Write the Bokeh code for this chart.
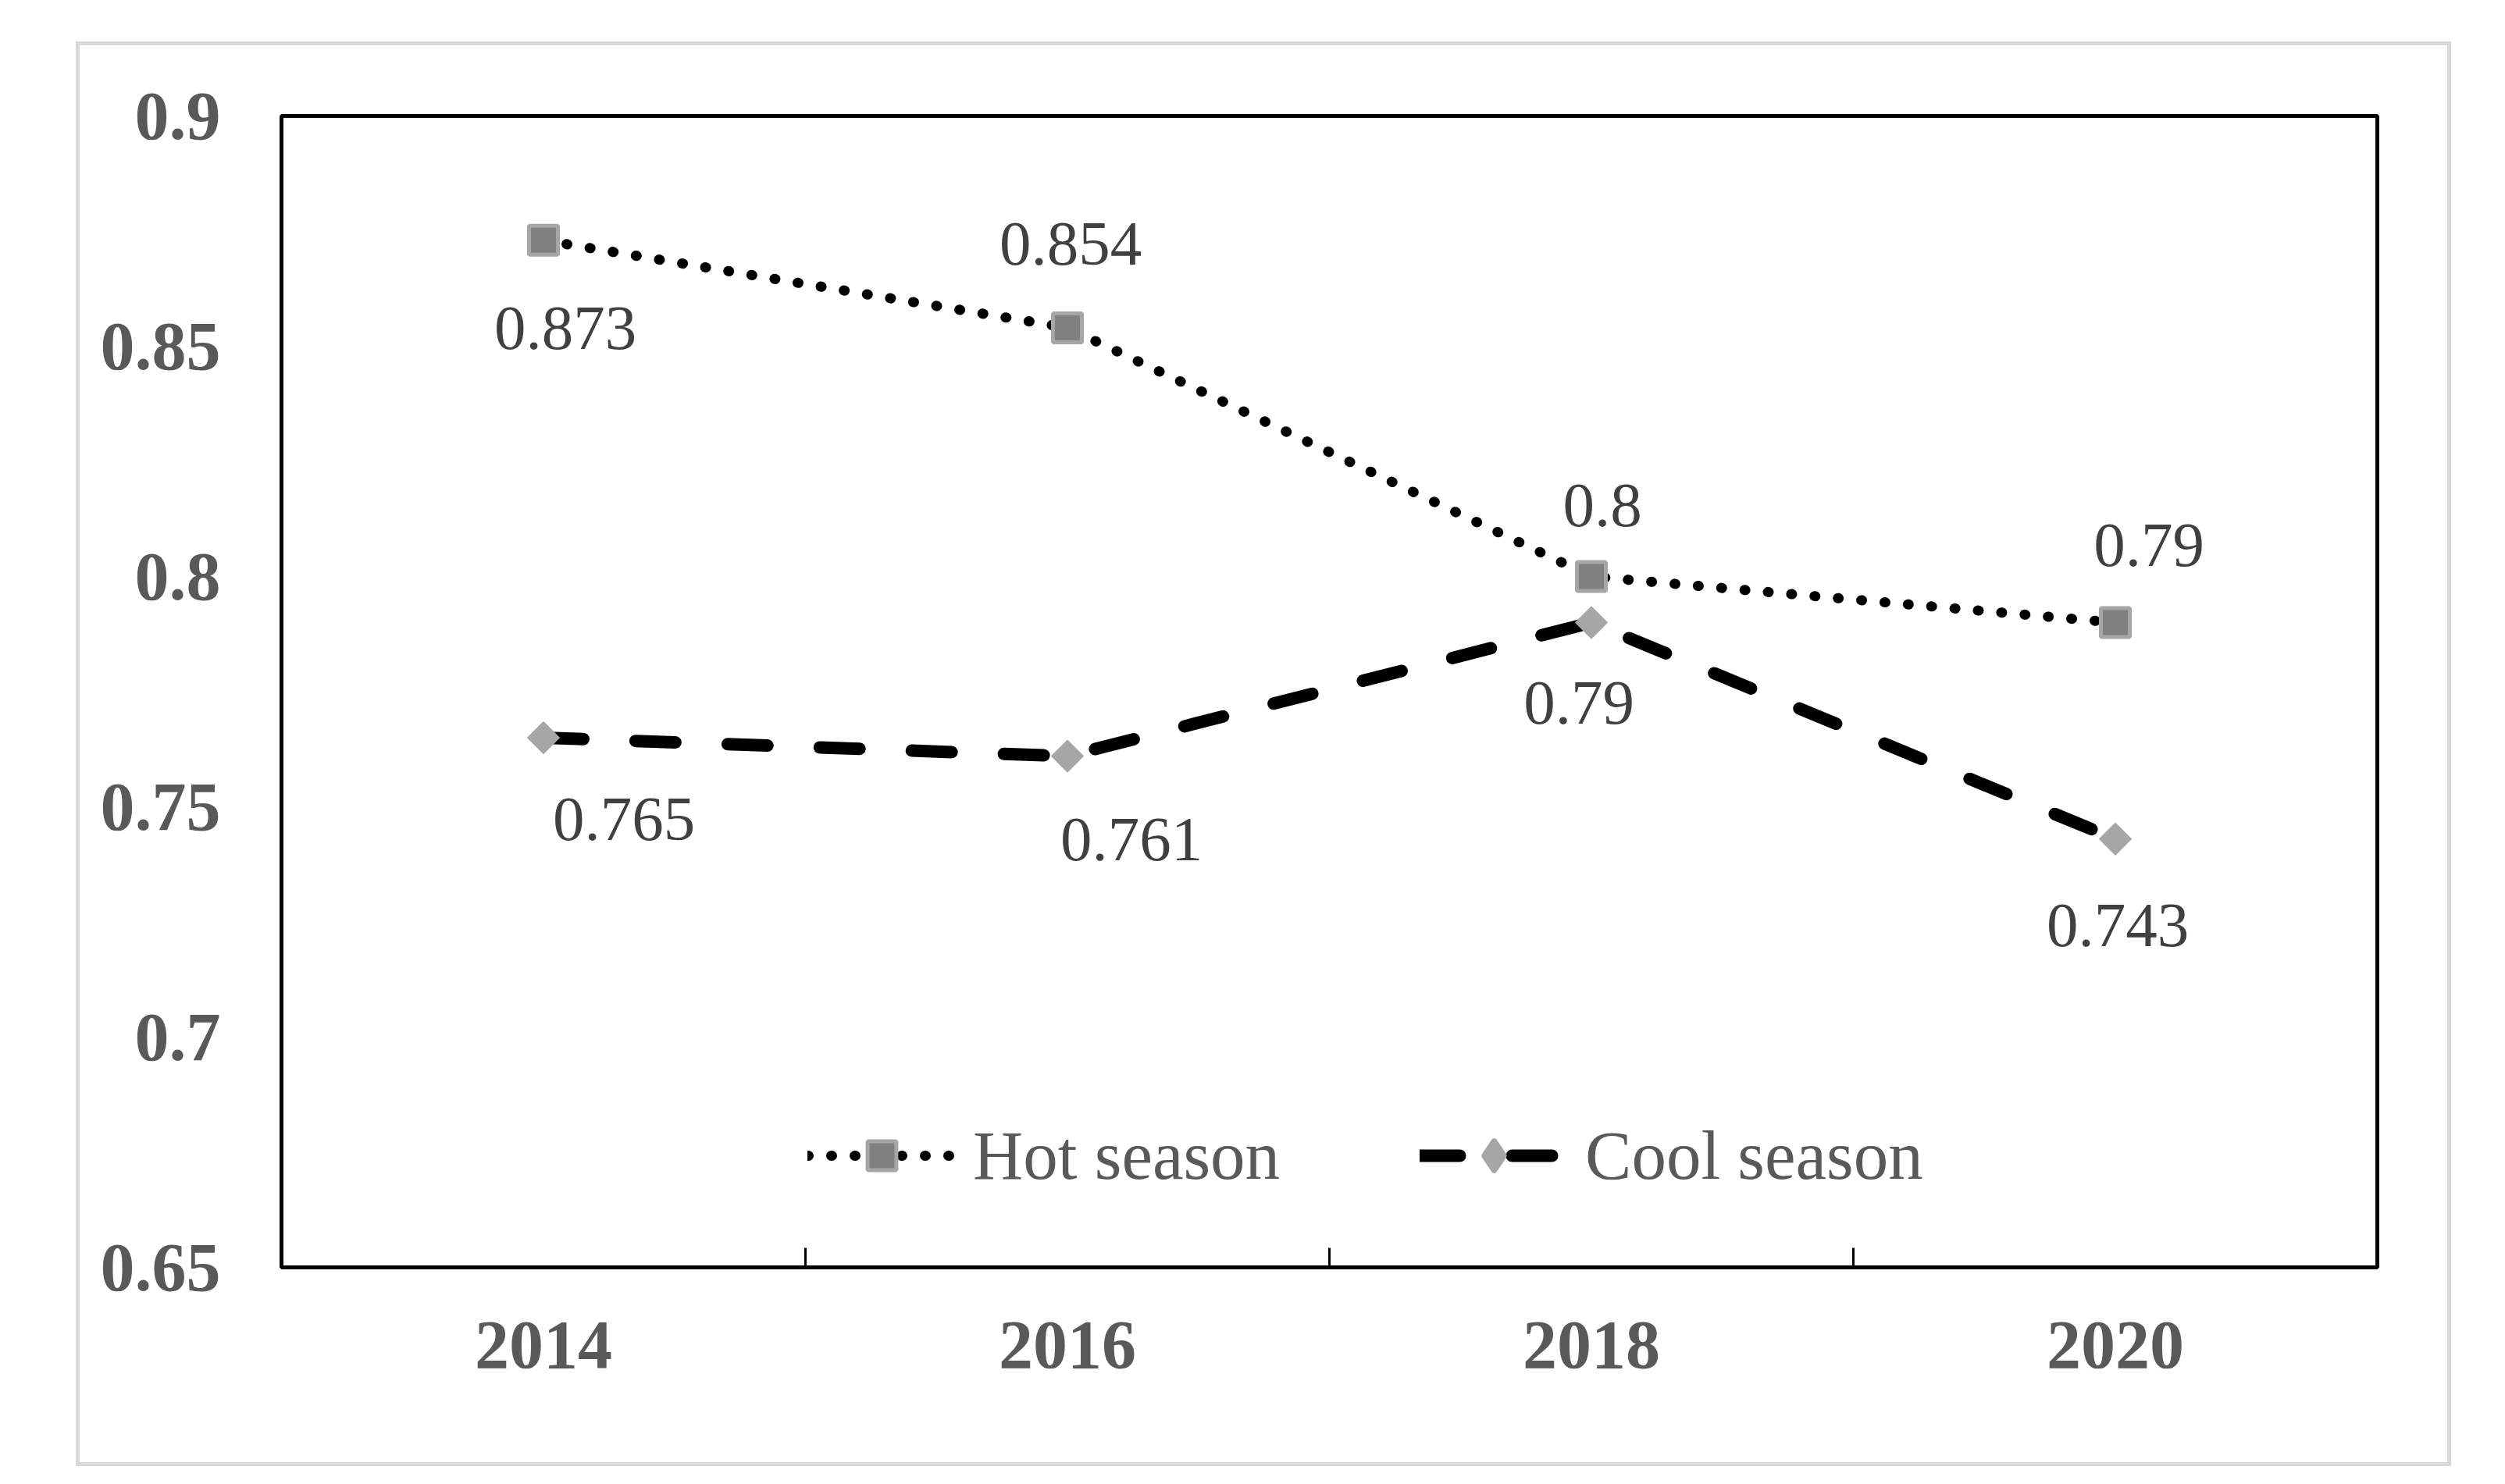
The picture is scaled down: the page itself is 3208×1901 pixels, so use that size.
from bokeh.plotting import figure
from bokeh.models import (ColumnDataSource, FixedTicker, Range1d, CustomJSTickFormatter,
                          Legend, LegendItem)
from bokeh.core.properties import value
from bokeh.embed import file_html
from bokeh.resources import INLINE
import numpy as np

# ---- data ----
years = [2014, 2016, 2018, 2020]
hot_season = [0.873, 0.854, 0.800, 0.790]
cool_season = [0.765, 0.761, 0.790, 0.743]
y_ticks = [0.65, 0.70, 0.75, 0.80, 0.85, 0.90]
x_boundaries = [2015, 2017, 2019]

# label offsets (screen px), styling only
hot_label_dx = [28, 4, 14, 43]
hot_label_dy = [113, -107, -91, -99]
cool_label_dx = [103, 82, -16, 3]
cool_label_dy = [104, 107, 103, 111]

SERIF = "Liberation Serif"

p = figure(width=3042, height=1825, output_backend="svg", toolbar_location=None,
           x_range=Range1d(2013, 2021), y_range=Range1d(0.65, 0.9),
           min_border_left=258, min_border_right=100, min_border_top=90, min_border_bottom=260,
           styles={"border": "5px solid #d9d9d9", "margin-left": "97px", "margin-top": "53px"})
p.background_fill_color = "white"
p.border_fill_color = "white"
p.outline_line_color = "black"
p.outline_line_width = 5
p.xgrid.visible = False
p.ygrid.visible = False

hot_dash = dict(line_color="black", line_width=13, line_dash="1 29", line_cap="round",
                line_join="round")
cool_dash = dict(line_color="black", line_width=16, line_dash="51 67", line_cap="round",
                 line_join="round")

hot_line = p.line(years, hot_season, **hot_dash)
cool_line = p.line(years, cool_season, **cool_dash)

hot_pts = p.scatter(years, hot_season, marker="square", size=37, fill_color="#808080",
                    line_color="#a6a6a6", line_width=5)
# legend-shaped diamond, fully covered by the rotated square drawn on top
cool_leg_mark = p.scatter(years, cool_season, marker="diamond", size=20,
                          fill_color="#a6a6a6", line_color="#a6a6a6", line_width=8,
                          line_join="round")
p.scatter(years, cool_season, marker="square", angle=np.pi / 4, size=30,
          fill_color="#a6a6a6", line_color=None)

# data labels
lab = ColumnDataSource(dict(
    x=years + years,
    y=hot_season + cool_season,
    t=[f"{v:g}" for v in hot_season + cool_season],
    dx=hot_label_dx + cool_label_dx,
    dy=hot_label_dy + cool_label_dy,
))
p.text(x="x", y="y", text="t", x_offset="dx", y_offset="dy", source=lab,
       text_font=value(SERIF), text_font_size="81px", text_color="#404040",
       text_align="center", text_baseline="middle")

legend = Legend(items=[
    LegendItem(label="Hot season", renderers=[hot_line, hot_pts]),
    LegendItem(label="Cool season", renderers=[cool_line, cool_leg_mark]),
], orientation="horizontal", location=(674, 92), padding=0, spacing=179,
    glyph_width=190, glyph_height=92, label_height=92, label_standoff=22,
    label_text_font=SERIF, label_text_font_size="89px", label_text_color="#595959",
    border_line_color=None, background_fill_alpha=0)
p.add_layout(legend, "center")

# axes
p.xaxis.ticker = FixedTicker(ticks=years, minor_ticks=x_boundaries)
p.xaxis.major_tick_in = 0
p.xaxis.major_tick_out = 0
p.xaxis.minor_tick_in = 25
p.xaxis.minor_tick_out = 0
p.xaxis.minor_tick_line_width = 3
p.xaxis.minor_tick_line_color = "black"
p.xaxis.axis_line_width = 5
p.xaxis.axis_line_color = "black"
p.xaxis.major_label_standoff = 70

p.yaxis.ticker = FixedTicker(ticks=y_ticks)
p.yaxis.formatter = CustomJSTickFormatter(code="return tick.toFixed(2).replace(/0$/, '');")
p.yaxis.major_tick_in = 0
p.yaxis.major_tick_out = 0
p.yaxis.minor_tick_line_color = None
p.yaxis.axis_line_color = None
p.yaxis.major_label_standoff = 78

for ax in (p.xaxis, p.yaxis):
    ax.major_label_text_font = SERIF
    ax.major_label_text_font_style = "bold"
    ax.major_label_text_font_size = "88px"
    ax.major_label_text_color = "#595959"

open("out.html", "w").write(file_html(p, INLINE))
